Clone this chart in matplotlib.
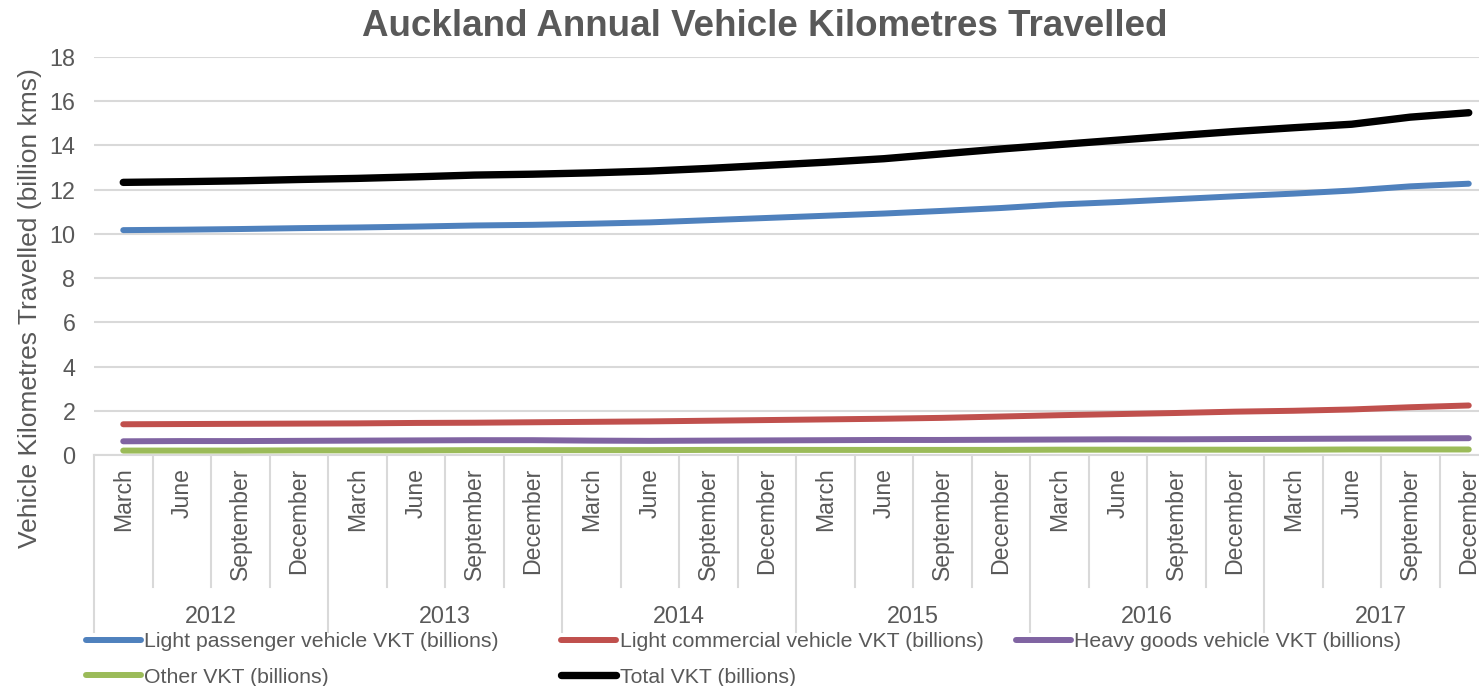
import matplotlib
matplotlib.use("Agg")
import matplotlib.pyplot as plt

plt.rcParams["font.family"] = ["Liberation Sans", "DejaVu Sans"]

# ---- data (billions of km, quarterly annual-rolling totals) ----
years = ["2012", "2013", "2014", "2015", "2016", "2017"]
quarters = ["March", "June", "September", "December"]

light_passenger = [10.17, 10.19, 10.22, 10.26, 10.29, 10.33, 10.38, 10.41,
                   10.46, 10.52, 10.62, 10.72, 10.82, 10.92, 11.04, 11.17,
                   11.33, 11.44, 11.57, 11.70, 11.82, 11.96, 12.15, 12.27]
light_commercial = [1.39, 1.40, 1.41, 1.42, 1.43, 1.45, 1.46, 1.48,
                    1.50, 1.52, 1.55, 1.58, 1.61, 1.64, 1.68, 1.74,
                    1.80, 1.85, 1.90, 1.96, 2.00, 2.06, 2.16, 2.24]
heavy_goods = [0.62, 0.63, 0.63, 0.64, 0.65, 0.66, 0.67, 0.67,
               0.65, 0.64, 0.65, 0.66, 0.67, 0.68, 0.68, 0.69,
               0.70, 0.71, 0.71, 0.72, 0.73, 0.74, 0.75, 0.76]
other = [0.20, 0.20, 0.20, 0.21, 0.21, 0.21, 0.22, 0.22,
         0.22, 0.22, 0.23, 0.23, 0.23, 0.23, 0.23, 0.23,
         0.24, 0.24, 0.24, 0.24, 0.24, 0.25, 0.25, 0.25]
total = [12.33, 12.36, 12.40, 12.46, 12.51, 12.58, 12.66, 12.70,
         12.76, 12.84, 12.96, 13.10, 13.24, 13.40, 13.62, 13.84,
         14.04, 14.24, 14.44, 14.63, 14.80, 14.96, 15.28, 15.48]

series_names = ["Light passenger vehicle VKT (billions)",
                "Light commercial vehicle VKT (billions)",
                "Heavy goods vehicle VKT (billions)",
                "Other VKT (billions)",
                "Total VKT (billions)"]

GREY = "#595959"
GRID = "#d9d9d9"

W, H = 1479, 686
fig = plt.figure(figsize=(W / 100, H / 100), dpi=100)
# plot area runs past the right edge of the picture (the reference is cropped)
ax = fig.add_axes([94 / W, (H - 455) / H, 1404 / W, 398 / H])

x = list(range(len(years) * len(quarters)))
styles = [("#4F81BD", 4.3), ("#C0504D", 4.3), ("#8064A2", 4.3), ("#9BBB59", 4.3), ("#000000", 5.3)]
handles = []
for vals, name, (col, lw) in zip([light_passenger, light_commercial, heavy_goods, other, total],
                                 series_names, styles):
    ln, = ax.plot(x, vals, color=col, lw=lw, solid_capstyle="round", solid_joinstyle="round",
                  label=name, zorder=3)
    handles.append(ln)

ax.set_xlim(-0.5, len(x) - 0.5)
ax.set_ylim(0, 18)
ax.set_yticks(range(0, 19, 2))
ax.yaxis.grid(True, color=GRID, lw=1.5)
ax.set_axisbelow(True)
for s in ["left", "right", "top"]:
    ax.spines[s].set_visible(False)
ax.spines["bottom"].set_color(GRID)
ax.spines["bottom"].set_linewidth(1.5)
ax.tick_params(axis="y", length=0, pad=13.5, labelsize=16.8, labelcolor=GREY)

# quarter labels
ax.set_xticks(x)
ax.set_xticklabels(quarters * len(years), rotation=90)
ax.tick_params(axis="x", length=0, pad=9, labelsize=16.6, labelcolor=GREY)

# multi-level category separators
tr = ax.get_xaxis_transform()
for i in range(len(x)):
    b = i - 0.5
    y_end = -0.445 if i % 4 == 0 else -0.332
    ax.plot([b, b], [0, y_end], color=GRID, lw=1.5, transform=tr, clip_on=False)
for k, yr in enumerate(years):
    ax.text(k * 4 + 1.5, -0.405, yr, transform=tr, ha="center", va="center",
            fontsize=16.8, color=GREY)

fig.text(765 / W, (H - 26) / H, "Auckland Annual Vehicle Kilometres Travelled",
         ha="center", va="center", fontsize=26.5, fontweight="bold", color=GREY)
fig.text(30 / W, (H - 308) / H, "Vehicle Kilometres Travelled (billion kms)",
         rotation=90, ha="center", va="center", fontsize=19, color=GREY)

# legend: two rows, laid out like Excel's
leg_kw = dict(frameon=False, fontsize=15.3, handlelength=2.6, handletextpad=0.15,
              labelspacing=0.78, borderpad=0, borderaxespad=0, labelcolor=GREY)
fig.legend([handles[0], handles[3], handles[1], handles[4]],
           [series_names[0], series_names[3], series_names[1], series_names[4]],
           ncol=2, columnspacing=2.92, loc="upper left",
           bbox_to_anchor=(86 / W, (H - 632) / H), **leg_kw)
fig.legend([handles[2]], [series_names[2]], loc="upper left",
           bbox_to_anchor=(1016 / W, (H - 632) / H), **leg_kw)

fig.savefig("out.png", dpi=100)
